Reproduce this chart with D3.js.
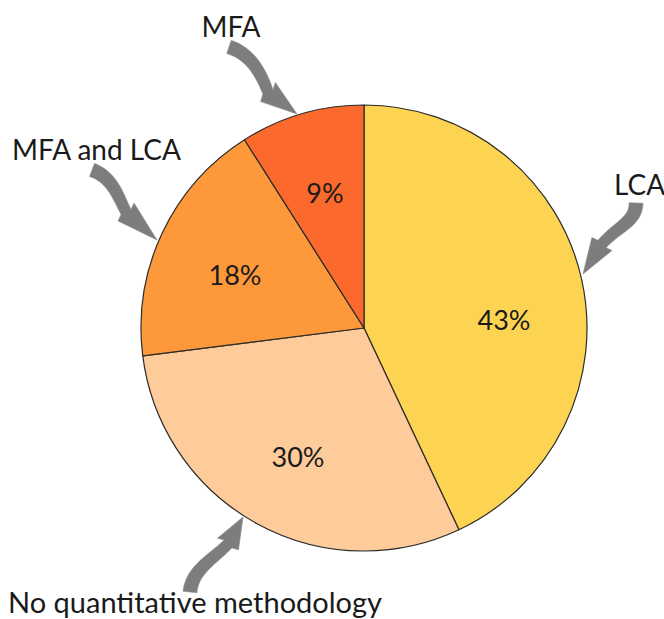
<!DOCTYPE html>
<html>
<head>
<meta charset="utf-8">
<script src="https://cdn.jsdelivr.net/npm/d3@7"></script>
<style>
  html, body { margin: 0; padding: 0; background: #ffffff; }
  svg { display: block; }
  text { font-family: Lato, "Open Sans", sans-serif; fill: #1a1a1a; }
</style>
</head>
<body>
<svg id="chart" width="664" height="619"></svg>
<script>
// Share of studies by quantitative methodology
const categories = ["LCA", "No quantitative methodology", "MFA and LCA", "MFA"];
const values = [43, 30, 18, 9];
const colors = ["#fdd452", "#fecb9a", "#fd993a", "#fb6a2c"];

// Layout
const W = 664, H = 619;
const cx = 364, cy = 328, R = 223;

// Offsets of the percentage labels from the pie centre
const pctOffset = {
  "LCA": [140, -9],
  "No quantitative methodology": [-66, 128],
  "MFA and LCA": [-129, -54],
  "MFA": [-39, -136]
};

// Category name placement: [x, baseline y, anchor, font size]
const namePos = {
  "LCA": [614, 195, "start", 28],
  "No quantitative methodology": [8, 613, "start", 29],
  "MFA and LCA": [12, 160, "start", 28],
  "MFA": [231, 37, "middle", 28]
};

// Curved callout arrows: tail, control 1, control 2, head base, tip
const arrowPaths = {
  "MFA": [[229, 47], [252, 54], [262, 76], [268, 92], [297, 114]],
  "MFA and LCA": [[92, 170], [112, 177], [118, 196], [126, 212], [157, 240]],
  "LCA": [[636, 203], [636, 222], [618, 226], [602, 244], [583, 274]],
  "No quantitative methodology": [[190, 592], [192, 570], [212, 560], [228, 544], [243, 517]]
};

const svg = d3.select("#chart");

const pie = d3.pie().sort(null).value(d => d.value).startAngle(0).endAngle(2 * Math.PI);
const arc = d3.arc().innerRadius(0).outerRadius(R);

const data = categories.map((c, i) => ({ name: c, value: values[i], color: colors[i] }));
const arcs = pie(data);

const g = svg.append("g").attr("transform", `translate(${cx},${cy})`);

g.selectAll("path.slice")
  .data(arcs)
  .join("path")
  .attr("class", "slice")
  .attr("d", arc)
  .attr("fill", d => d.data.color)
  .attr("stroke", "#2b2b2b")
  .attr("stroke-width", 1.2)
  .attr("stroke-linejoin", "round");

g.selectAll("text.pct")
  .data(arcs)
  .join("text")
  .attr("class", "pct")
  .attr("x", d => pctOffset[d.data.name][0])
  .attr("y", d => pctOffset[d.data.name][1])
  .attr("text-anchor", "middle")
  .attr("dominant-baseline", "central")
  .attr("font-size", 27)
  .text(d => d.data.value + "%");

// Build a filled curved-arrow outline along a cubic Bézier
function arrowOutline(pts) {
  const [p0, p1, p2, p3, tip] = pts;
  const bez = t => {
    const u = 1 - t;
    return [
      u*u*u*p0[0] + 3*u*u*t*p1[0] + 3*u*t*t*p2[0] + t*t*t*p3[0],
      u*u*u*p0[1] + 3*u*u*t*p1[1] + 3*u*t*t*p2[1] + t*t*t*p3[1]
    ];
  };
  const N = 30;
  const samples = d3.range(N + 1).map(i => bez(i / N));
  const left = [], right = [];
  samples.forEach((p, i) => {
    const a = samples[Math.max(0, i - 1)], b = samples[Math.min(N, i + 1)];
    let dx = b[0] - a[0], dy = b[1] - a[1];
    const len = Math.hypot(dx, dy) || 1;
    dx /= len; dy /= len;
    const w = (14 - 3 * (i / N)) / 2;
    left.push([p[0] - dy * w, p[1] + dx * w]);
    right.push([p[0] + dy * w, p[1] - dx * w]);
  });
  // head
  let hx = tip[0] - p3[0], hy = tip[1] - p3[1];
  const hl = Math.hypot(hx, hy);
  hx /= hl; hy /= hl;
  const hw = 12;
  const barbL = [p3[0] - hy * hw, p3[1] + hx * hw];
  const barbR = [p3[0] + hy * hw, p3[1] - hx * hw];
  const outline = [...left, barbL, tip, barbR, ...right.reverse()];
  return "M" + outline.map(p => p[0].toFixed(1) + "," + p[1].toFixed(1)).join("L") + "Z";
}

svg.append("g")
  .selectAll("path.arrow")
  .data(categories)
  .join("path")
  .attr("class", "arrow")
  .attr("d", c => arrowOutline(arrowPaths[c]))
  .attr("fill", "#7d7d7d")
  .attr("stroke", "#8a8a8a")
  .attr("stroke-width", 0.6);

svg.append("g")
  .selectAll("text.name")
  .data(categories)
  .join("text")
  .attr("class", "name")
  .attr("x", c => namePos[c][0])
  .attr("y", c => namePos[c][1])
  .attr("text-anchor", c => namePos[c][2])
  .attr("font-size", c => namePos[c][3])
  .text(c => c);
</script>
</body>
</html>
